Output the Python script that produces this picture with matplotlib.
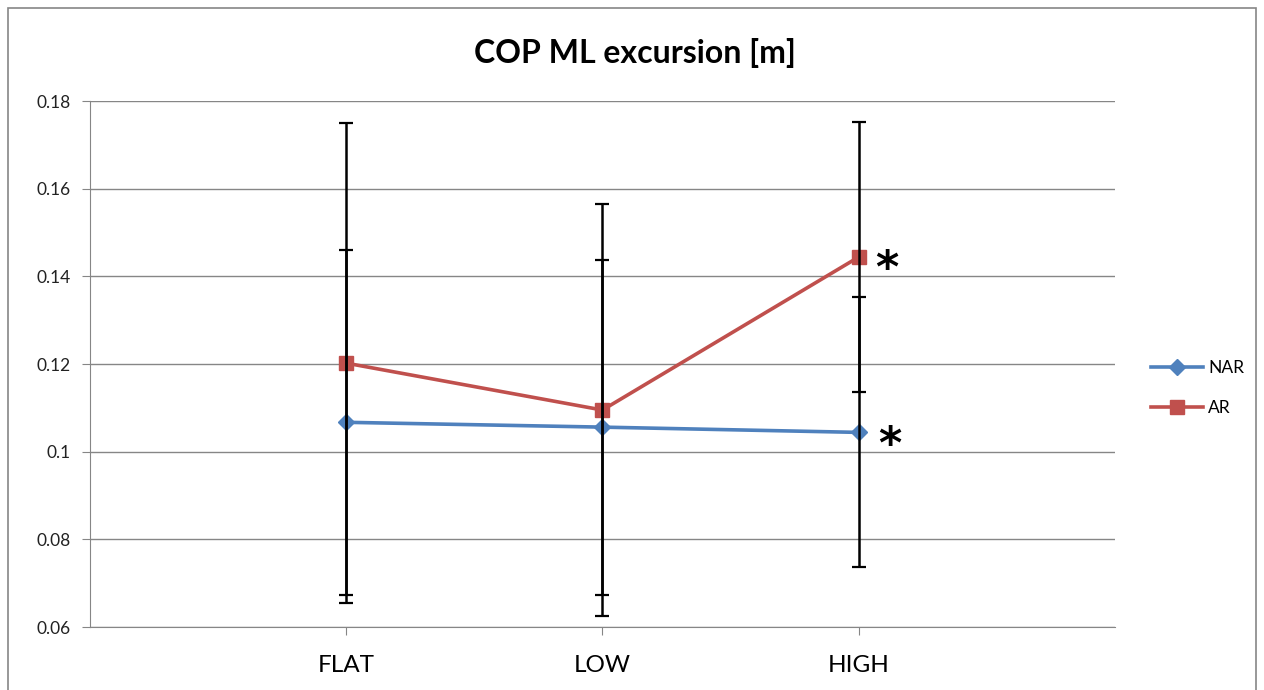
import numpy as np
import matplotlib.pyplot as plt
from matplotlib.patches import Rectangle

categories = ['FLAT', 'LOW', 'HIGH']
nar_mean = [0.1067, 0.1056, 0.1044]
nar_err = [0.0394, 0.0382, 0.0308]
ar_mean = [0.1202, 0.1095, 0.1444]
ar_err = [0.0547, 0.0469, 0.0308]
yticks = [0.06, 0.08, 0.1, 0.12, 0.14, 0.16, 0.18]
ytick_labels = ['0.06', '0.08', '0.1', '0.12', '0.14', '0.16', '0.18']

plt.rcParams['font.family'] = ['Lato', 'DejaVu Sans']

fig = plt.figure(figsize=(12.64, 6.9), dpi=100)
ax = fig.add_axes([0.0712, 0.0913, 0.8108, 0.7623])

# outer chart border
fig.patches.append(Rectangle((0.006, -0.01), 0.988, 0.998, transform=fig.transFigure,
                             fill=False, edgecolor='#868686', linewidth=1.2))

x = np.arange(1, len(categories) + 1)
ax.plot(x, nar_mean, color='#4F81BD', linewidth=2.6, marker='D', markersize=8.5, label='NAR', zorder=3)
ax.plot(x, ar_mean, color='#C0504D', linewidth=2.6, marker='s', markersize=10, label='AR', zorder=3)

ax.errorbar(x, nar_mean, yerr=nar_err, fmt='none', ecolor='black', elinewidth=1.8, capsize=5, capthick=1.6, zorder=4)
ax.errorbar(x, ar_mean, yerr=ar_err, fmt='none', ecolor='black', elinewidth=1.8, capsize=5, capthick=1.6, zorder=4)

# significance markers
ax.text(x[2] + 0.11, ar_mean[2] - 0.0028, '*', fontsize=32, fontweight='bold', ha='center', va='center', family='DejaVu Sans')
ax.text(x[2] + 0.12, nar_mean[2] - 0.0031, '*', fontsize=32, fontweight='bold', ha='center', va='center', family='DejaVu Sans')

ax.set_xlim(0, 4)
ax.set_ylim(0.06, 0.18)
ax.set_yticks(yticks)
ax.set_yticklabels(ytick_labels, fontsize=12.5, color='#222222')
ax.set_xticks(x)
ax.set_xticklabels(categories, fontsize=17.5, color='black')
ax.tick_params(axis='y', direction='out', length=6, color='#868686', pad=8)
ax.tick_params(axis='x', direction='out', length=6, color='#868686', pad=14)
ax.grid(axis='y', color='#868686', linewidth=1)
ax.set_axisbelow(True)
for s in ['top', 'right']:
    ax.spines[s].set_visible(False)
for s in ['left', 'bottom']:
    ax.spines[s].set_color('#868686')

fig.text(0.502, 0.923, 'COP ML excursion [m]', fontsize=23, fontweight='bold', ha='center', va='center')

ax.legend(loc='center left', bbox_to_anchor=(1.02, 0.454), frameon=False, fontsize=12.5,
          handlelength=3.0, labelspacing=1.35, handletextpad=0.3)

fig.savefig('out.png', dpi=100)
